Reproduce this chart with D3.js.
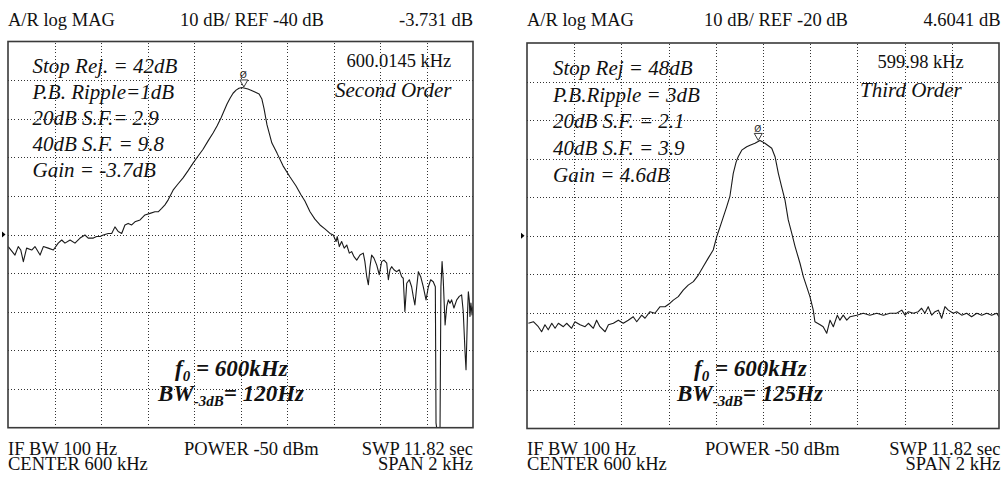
<!DOCTYPE html>
<html><head><meta charset="utf-8">
<script src="https://cdn.jsdelivr.net/npm/d3@7"></script>
<style>html,body{margin:0;padding:0;background:#fff;} svg{display:block;}</style>
</head><body><svg id="c" width="1002" height="478"></svg>
<script>
// ---------------- DATA ----------------
// Frequency offsets from the 600 kHz centre (Hz) and trace magnitude (dB)
const leftFreqHz = [-999,-970,-956,-945,-934,-920,-898,-884,-862,-848,-827,-805,-784,-769,-755,-733,-712,-690,-669,-655,-633,-619,-604,-590,-569,-554,-540,-526,-511,-497,-483,-468,-454,-432,-411,-389,-368,-354,-339,-325,-311,
 -290,-269,-247,-226,-204,-183,-161,-140,-118,-101,-84,-71,-58,-45,-32,-19,-6.5,6.4,19,32,45,62,80,92,101,114,135,157,183,213,239,260,277,299,320,342,363,
 385,399,411,416,425,435,446,457,468,478,488,500,514,528,535,543,550,557,564,574,586,597,607,617,629,636,643,650,660,672,683,693,700,707,715,726,736,743,750,758,765,775,786,798,808,818,829,838,841,848,858,862,867,872,880,887,894,901,908,918,930,941,951,958,966,970,976,980,984,987,991,996,999];
const leftDb = [-43.1,-45.3,-43.1,-44.0,-47.0,-43.5,-44.0,-43.1,-45.3,-43.1,-43.5,-44.0,-42.2,-41.4,-42.2,-41.4,-42.2,-40.9,-40.1,-40.9,-40.9,-40.5,-40.5,-40.1,-39.7,-39.7,-38.0,-39.2,-39.7,-37.5,-37.1,-37.5,-36.7,-36.2,-34.9,-34.5,-34.1,-34.1,-33.2,-32.3,-31.0,
 -28.5,-26.9,-25.3,-23.5,-21.5,-19.7,-17.9,-15.8,-13.7,-11.9,-9.8,-8.0,-6.2,-4.7,-3.4,-2.6,-2.1,-1.9,-2.1,-2.3,-2.6,-3.1,-3.6,-4.9,-7.3,-11.6,-16.3,-18.9,-22.2,-25.1,-27.4,-29.7,-31.3,-34.1,-36.0,-37.5,-38.5,
 -39.7,-40.1,-41.8,-40.5,-43.1,-41.8,-43.5,-42.7,-44.8,-44.4,-45.7,-46.6,-45.3,-44.8,-47.0,-50.9,-53.0,-48.3,-45.3,-46.1,-47.9,-50.4,-47.0,-46.6,-47.4,-51.7,-49.1,-48.3,-49.1,-49.6,-49.1,-50.9,-51.3,-59.9,-52.6,-51.7,-53.5,-56.0,-58.2,-53.5,-49.6,-50.9,-53.5,-56.9,-53.5,-51.7,-52.2,-53.5,-88.8,-92,-92,-53.5,-47.0,-51.7,-63.4,-58.6,-56.9,-57.8,-56.9,-59.0,-56.9,-56.0,-55.6,-59.9,-70.7,-75.0,-61.2,-54.8,-56.9,-61.2,-57.7,-60.8,-58.6];

const rightFreqHz = [-994,-973,-952,-938,-924,-910,-895,-881,-867,-846,-832,-811,-797,-775,-754,-740,-719,-705,-691,-669,-655,-634,-613,-592,-571,-550,-535,-514,-500,-479,-458,-436,-415,-394,-380,-359,-338,-317,-295,-274,-253,-232,-211,-196,-182,-168,-154,-140,-126,-114,-105,-90,-69,-55,-34,-13,8,37,51,65,79,93,107,122,136,157,171,185,199,213,220,242,255,270,284,298,315,326,340,355,369,397,425,453,482,510,538,566,588,602,616,637,658,672,686,700,715,729,743,757,771,785,806,821,842,863,884,906,927,948,969,990,1000];
const rightDb = [-42.7,-42.3,-43.6,-44.9,-43.1,-44.4,-42.7,-44.0,-42.7,-43.6,-42.7,-44.0,-42.3,-43.1,-43.6,-42.7,-44.0,-41.9,-43.6,-44.9,-43.1,-42.7,-41.9,-42.7,-41.9,-41.0,-42.3,-40.6,-41.4,-39.7,-40.1,-38.4,-38.4,-37.5,-36.7,-35.8,-34.1,-32.8,-31.9,-30.2,-28.0,-25.8,-23.7,-20.2,-17.7,-15.1,-12.5,-9.7,-3.8,-0.9,0.5,2.2,3.1,3.5,4.0,4.7,4.0,2.7,0.5,-3.8,-7.3,-10.7,-15.9,-19.4,-22.8,-27.2,-30.6,-33.2,-35.8,-39.3,-42.3,-43.1,-43.6,-45.3,-41.9,-43.6,-40.6,-41.9,-40.6,-41.9,-41.0,-40.6,-40.1,-40.6,-40.1,-40.6,-40.1,-40.1,-39.3,-40.6,-39.7,-40.1,-39.7,-38.8,-40.1,-38.4,-40.6,-39.7,-39.3,-41.4,-38.4,-39.3,-40.1,-39.7,-40.6,-40.1,-41.0,-40.1,-40.6,-40.1,-40.6,-40.1,-41.0];

const refLevelsDb = [-40, -20];
const dbPerDiv = [10, 10];
const spanHz = 2000;
const markerFreqHz = [14.5, -20];
const panelTitles = ["A/R log MAG", "A/R log MAG"];
const scaleLabels = ["10 dB/ REF -40 dB", "10 dB/ REF -20 dB"];
const markerReadouts = ["-3.731 dB", "4.6041 dB"];
const markerFreqLabels = ["600.0145 kHz", "599.98 kHz"];
const filterOrders = ["Second Order", "Third Order"];
const specLines = [
  ["Stop Rej. = 42dB", "P.B. Ripple=1dB", "20dB S.F.= 2.9", "40dB S.F. = 9.8", "Gain = -3.7dB"],
  ["Stop Rej = 48dB", "P.B.Ripple = 3dB", "20dB S.F. = 2.1", "40dB S.F. = 3.9", "Gain = 4.6dB"]
];
const centreFreqText = ["600kHz", "600kHz"];
const bandwidthText = ["120Hz", "125Hz"];
const footerTopRow = ["IF BW 100 Hz", "POWER -50 dBm", "SWP 11.82 sec"];
const footerBottomRow = ["CENTER 600 kHz", "SPAN 2 kHz"];

// ---------------- LAYOUT ----------------
const layout = [
  {l:8, t:41.5, r:473, b:427.7, scaleX:180, specX:32.5, specY0:73, specDy:26, mfX:346.5, mfY:67, ordX:335, ordY:96.5, powX:184, ...{}},
  {l:527, t:43, r:999, b:428.5, scaleX:704, specX:553, specY0:75, specDy:26.7, mfX:877.5, mfY:68, ordX:860, ordY:96.5, powX:705}
];
const serif = "'Liberation Serif','Times New Roman',Times,serif";
const svg = d3.select("#c");

const traces = [[leftFreqHz,leftDb],[rightFreqHz,rightDb]];

layout.forEach((L, i) => {
  const ref = refLevelsDb[i], dpd = dbPerDiv[i];
  const x = d3.scaleLinear().domain([-spanHz/2, spanHz/2]).range([L.l, L.r]);
  const y = d3.scaleLinear().domain([ref - 5*dpd, ref + 5*dpd]).range([L.b, L.t]);
  const g = svg.append("g");

  // grid
  const gx = d3.axisBottom(x).tickValues(d3.range(-spanHz/2 + spanHz/10, spanHz/2, spanHz/10)).tickSize(-(L.b - L.t)).tickFormat("");
  const gy = d3.axisLeft(y).tickValues(d3.range(ref - 4*dpd, ref + 5*dpd, dpd)).tickSize(-(L.r - L.l)).tickFormat("");
  const gxg = g.append("g").attr("transform", `translate(0,${L.b})`).call(gx);
  const gyg = g.append("g").attr("transform", `translate(${L.l},0)`).call(gy);
  [gxg, gyg].forEach(a => {
    a.select(".domain").remove();
    a.selectAll("line").attr("stroke", "#333").attr("stroke-width", 1).attr("stroke-dasharray", "1,2.2").attr("shape-rendering","crispEdges");
  });

  // clip + trace
  const cid = "clip" + i;
  svg.append("clipPath").attr("id", cid).append("rect").attr("x", L.l).attr("y", L.t).attr("width", L.r - L.l).attr("height", L.b - L.t);
  const [fr, db] = traces[i];
  const pts = fr.map((f, k) => [f, db[k]]);
  const line = d3.line().x(d => x(d[0])).y(d => y(d[1]));
  g.append("path").datum(pts).attr("clip-path", `url(#${cid})`).attr("d", line)
    .attr("fill", "none").attr("stroke", "#1a1a1a").attr("stroke-width", 1.1).attr("stroke-linejoin","round");

  // frame
  g.append("rect").attr("x", L.l).attr("y", L.t).attr("width", L.r - L.l).attr("height", L.b - L.t)
    .attr("fill", "none").attr("stroke", "#3a3a3a").attr("stroke-width", 1.6);

  // reference-level pointer
  const yr = y(ref);
  g.append("path").attr("d", `M${L.l-6},${yr-3} L${L.l-2.5},${yr} L${L.l-6},${yr+3} Z`).attr("fill", "#000");

  // marker on trace
  const mf = markerFreqHz[i];
  const k = d3.bisector(d => d[0]).left(pts, mf);
  const p0 = pts[Math.max(0,k-1)], p1 = pts[Math.min(pts.length-1,k)];
  const tt = p1[0] === p0[0] ? 0 : (mf - p0[0]) / (p1[0] - p0[0]);
  const mdb = p0[1] + tt * (p1[1] - p0[1]);
  const mx = x(mf), my = y(mdb);
  g.append("path").attr("d", `M${mx-4},${my-8} L${mx+4},${my-8} L${mx},${my-1} Z`).attr("fill", "#fff").attr("stroke", "#222").attr("stroke-width", 0.9);
  g.append("text").attr("x", mx - 0.5).attr("y", my - 9.5).attr("text-anchor", "middle")
    .attr("font-family", "'DejaVu Sans',sans-serif").attr("font-size", 9).attr("fill", "#222").text("Ø");

  // header
  const hdr = (txt, xx, anchor) => g.append("text").attr("x", xx).attr("y", 26).attr("text-anchor", anchor)
    .attr("font-family", serif).attr("font-size", 18.5).attr("fill", "#111").text(txt);
  hdr(panelTitles[i], L.l, "start");
  hdr(scaleLabels[i], L.scaleX, "start");
  hdr(markerReadouts[i], i === 0 ? L.r : 1000.5, "end");

  // footer
  const ftr = (txt, xx, yy, anchor) => g.append("text").attr("x", xx).attr("y", yy).attr("text-anchor", anchor)
    .attr("font-family", serif).attr("font-size", 18.5).attr("fill", "#111").text(txt);
  const rightEdge = i === 0 ? L.r : 1000.5;
  ftr(footerTopRow[0], L.l, 454.5, "start");
  ftr(footerTopRow[1], L.powX, 454.5, "start");
  ftr(footerTopRow[2], rightEdge, 454.5, "end");
  ftr(footerBottomRow[0], L.l, 470, "start");
  ftr(footerBottomRow[1], rightEdge, 470, "end");

  // annotations
  specLines[i].forEach((s, j) => {
    g.append("text").attr("x", L.specX).attr("y", L.specY0 + j * L.specDy)
      .attr("font-family", serif).attr("font-style", "italic").attr("font-size", 21).attr("fill", "#111").text(s);
  });
  g.append("text").attr("x", L.mfX).attr("y", L.mfY).attr("font-family", serif).attr("font-size", 18.5).attr("fill", "#111").text(markerFreqLabels[i]);
  g.append("text").attr("x", L.ordX).attr("y", L.ordY).attr("font-family", serif).attr("font-style", "italic").attr("font-size", 21).attr("fill", "#111").text(filterOrders[i]);

  // f0 and BW
  const f0 = g.append("text").attr("x", L.l + 167).attr("y", 376)
    .attr("font-family", serif).attr("font-style", "italic").attr("font-weight", "bold").attr("font-size", 23).attr("fill", "#111");
  f0.append("tspan").text("f");
  f0.append("tspan").attr("font-size", 15).attr("dy", 5).text("0");
  f0.append("tspan").attr("dy", -5).text(" = " + centreFreqText[i]);
  const bw = g.append("text").attr("x", L.l + 150).attr("y", 401)
    .attr("font-family", serif).attr("font-style", "italic").attr("font-weight", "bold").attr("font-size", 23).attr("fill", "#111");
  bw.append("tspan").text("BW");
  bw.append("tspan").attr("font-size", 15).attr("dy", 5).text("-3dB");
  bw.append("tspan").attr("dy", -5).text("= " + bandwidthText[i]);
});
</script></body></html>
